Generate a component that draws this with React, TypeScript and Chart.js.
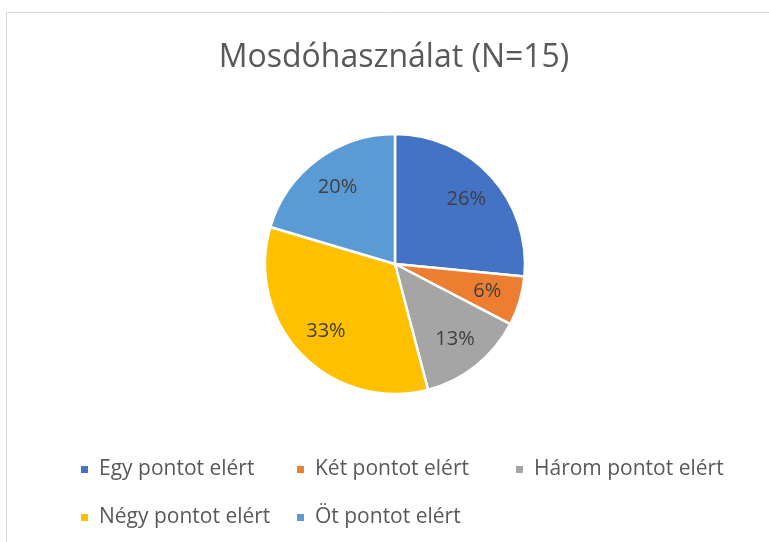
import React, { useEffect, useRef } from "react";
import { Chart, registerables } from "chart.js";

Chart.register(...registerables);

const titleText = "Mosdóhasználat (N=15)";
const categories = [
  "Egy pontot elért",
  "Két pontot elért",
  "Három pontot elért",
  "Négy pontot elért",
  "Öt pontot elért",
];
const values = [26, 6, 13, 33, 20];
const valueLabels = ["26%", "6%", "13%", "33%", "20%"];
const colors = ["#4472C4", "#ED7D31", "#A5A5A5", "#FFC000", "#5B9BD5"];

const FONT = "'Open Sans', 'Noto Sans', sans-serif";

const decorPlugin = {
  id: "decor",
  beforeDraw(chart: any) {
    const ctx = chart.ctx;
    ctx.save();
    ctx.fillStyle = "#FFFFFF";
    ctx.fillRect(0, 0, chart.width, chart.height);
    ctx.strokeStyle = "#D9D9D9";
    ctx.lineWidth = 1;
    ctx.beginPath();
    ctx.moveTo(6.5, chart.height + 5);
    ctx.lineTo(6.5, 12.5);
    ctx.lineTo(chart.width + 5, 12.5);
    ctx.stroke();
    ctx.restore();
  },
  afterDraw(chart: any) {
    const ctx = chart.ctx;
    ctx.save();
    // title
    ctx.fillStyle = "#595959";
    ctx.font = `400 32px ${FONT}`;
    ctx.textAlign = "center";
    ctx.textBaseline = "middle";
    ctx.fillText(titleText, 394, 58);

    // data labels
    const meta = chart.getDatasetMeta(0);
    ctx.font = `20px ${FONT}`;
    ctx.fillStyle = "#404040";
    meta.data.forEach((arc: any, i: number) => {
      const p = arc.getProps(["x", "y", "startAngle", "endAngle", "outerRadius"], true);
      const mid = (p.startAngle + p.endAngle) / 2;
      const r = p.outerRadius * 0.74;
      ctx.fillText(valueLabels[i], p.x + Math.cos(mid) * r, p.y + Math.sin(mid) * r);
    });

    // legend
    const colX = [81, 297, 516];
    const rowY = [469, 517];
    ctx.font = `21px ${FONT}`;
    ctx.textAlign = "left";
    categories.forEach((c, i) => {
      const x = colX[i % 3];
      const y = rowY[Math.floor(i / 3)];
      ctx.fillStyle = colors[i];
      ctx.fillRect(x, y - 3, 7, 7);
      ctx.fillStyle = "#595959";
      ctx.fillText(c, x + 18, y);
    });
    ctx.restore();
  },
};

export default function App() {
  const ref = useRef<HTMLCanvasElement>(null);
  useEffect(() => {
    if (!ref.current) return;
    const chart = new Chart(ref.current, {
      type: "pie",
      data: {
        labels: categories,
        datasets: [
          {
            data: values,
            backgroundColor: colors,
            borderColor: "#FFFFFF",
            borderWidth: 2.5,
            hoverOffset: 0,
            offset: 0,
          },
        ],
      },
      options: {
        animation: false,
        responsive: false,
        radius: 130,
        layout: { padding: { left: 21, right: 0, top: 0, bottom: 14 } },
        plugins: {
          legend: { display: false },
          title: { display: false },
          tooltip: { enabled: false },
        },
      } as any,
      plugins: [decorPlugin],
    });
    return () => chart.destroy();
  }, []);
  return (
    <div style={{ position: "fixed", left: 0, top: 0, width: 769, height: 542 }}>
      <canvas ref={ref} width={769} height={542} style={{ width: 769, height: 542 }} />
    </div>
  );
}
